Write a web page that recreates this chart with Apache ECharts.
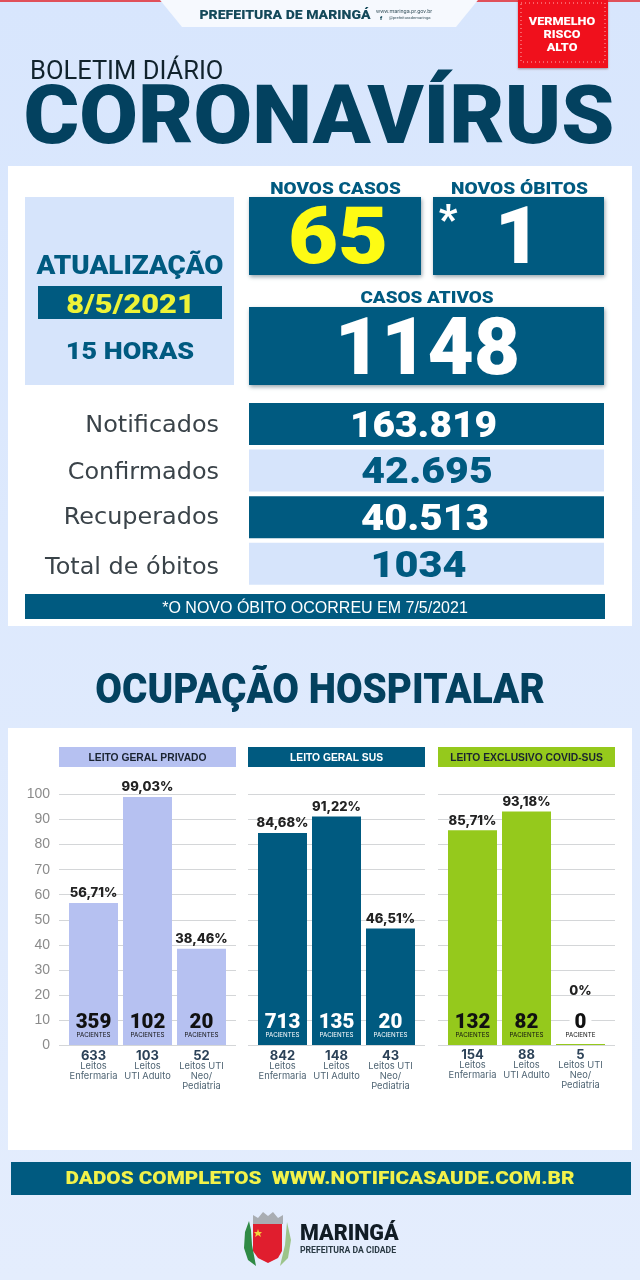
<!DOCTYPE html>
<html>
<head>
<meta charset="utf-8">
<title>Boletim Coronavírus Maringá</title>
<script src="https://cdn.jsdelivr.net/npm/echarts@6/dist/echarts.min.js"></script>
<style>
  html, body { margin: 0; padding: 0; background: #dfe9fd; }
  #chart { width: 640px; height: 1280px; }
</style>
</head>
<body>
<div id="chart"></div>
<script>
// valores do gráfico
const yTicks = [0, 10, 20, 30, 40, 50, 60, 70, 80, 90, 100];
const groupTitles = ['LEITO GERAL PRIVADO', 'LEITO GERAL SUS', 'LEITO EXCLUSIVO COVID-SUS'];
const bedTypes = ['Leitos\nEnfermaria', 'Leitos\nUTI Adulto', 'Leitos UTI\nNeo/\nPediatria'];

const privadoPct = [56.71, 99.03, 38.46];
const privadoPacientes = [359, 102, 20];
const privadoLeitos = [633, 103, 52];

const susPct = [84.68, 91.22, 46.51];
const susPacientes = [713, 135, 20];
const susLeitos = [842, 148, 43];

const covidPct = [85.71, 93.18, 0];
const covidPacientes = [132, 82, 0];
const covidLeitos = [154, 88, 5];

// números do boletim
const novosCasos = '65';
const novosObitos = '1';
const casosAtivos = '1148';
const rowLabels = ['Notificados', 'Confirmados', 'Recuperados', 'Total de óbitos'];
const rowValues = ['163.819', '42.695', '40.513', '1034'];

// ajuste fino das linhas de totais
const rowCenters = [423.5, 427, 425, 418.5];
const rowScales = [1.08, 1.14, 1.11, 1.15];
const rowLabelY = [424, 471, 516, 566];

const NAVY = '#005a80';
const DARK = '#03415f';
const PALE = '#d6e4fb';
const HEAD = 'Roboto, "Noto Sans", sans-serif';
const BODY = '"DejaVu Sans", sans-serif';
const CHART_FONT = 'Inter, Roboto, sans-serif';

const rect = (x, y, width, height, fill, extra = {}) => ({
  type: 'rect',
  silent: true,
  z: -5,
  shape: { x, y, width, height },
  style: { fill, ...extra },
});

const poly = (points, fill) => ({
  type: 'polygon',
  silent: true,
  z: -4,
  shape: { points },
  style: { fill },
});

// y é o centro visual das maiúsculas
const text = (str, x, y, size, fill, opts = {}) => {
  const { align = 'center', weight = 700, font = HEAD, scaleX = 1 } = opts;
  return {
    type: 'text',
    silent: true,
    x,
    y: y + size * 0.08,
    z: 5,
    scaleX,
    style: {
      text: str,
      fill,
      font: `${weight} ${size}px ${font}`,
      textAlign: align,
      textVerticalAlign: 'middle',
    },
  };
};

const boxShadow = { shadowBlur: 4, shadowColor: 'rgba(0,30,50,0.4)', shadowOffsetX: 1, shadowOffsetY: 2 };

// fundo, cabeçalho e quadro de números
const poster = [
  rect(0, 0, 640, 1280, new echarts.graphic.LinearGradient(0, 0, 0, 1, [
    { offset: 0, color: '#d8e6fd' },
    { offset: 1, color: '#e4edfd' },
  ])),
  rect(0, 0, 640, 2, '#e0505a'),
  poly([[160, 0], [478, 0], [456, 27], [182, 27]], '#f6f9fe'),
  text('PREFEITURA DE MARINGÁ', 285, 15, 12.5, '#14495a', { weight: 900, scaleX: 1.125 }),
  text('www.maringa.pr.gov.br', 376, 11, 5.5, '#3a5560', { align: 'left', weight: 400 }),
  text('f', 381, 18, 6, '#14495a', { weight: 900 }),
  text('@prefeiturademaringa', 389, 18, 4.2, '#3a5560', { align: 'left', weight: 400 }),
  rect(518, 0, 90, 68, '#f0101c', { shadowBlur: 2, shadowColor: 'rgba(80,0,0,0.4)', shadowOffsetY: 1 }),
  rect(521, 3, 84, 59, 'none', { stroke: '#ffb0b0', lineWidth: 1, lineDash: [1, 3] }),
  text('VERMELHO', 562, 21.5, 11.5, '#fff', { weight: 900, scaleX: 1.1 }),
  text('RISCO', 562, 34.5, 11.5, '#fff', { weight: 900, scaleX: 1.1 }),
  text('ALTO', 562, 47, 11.5, '#fff', { weight: 900, scaleX: 1.1 }),

  text('BOLETIM DIÁRIO', 30, 71, 25.5, '#10222c', { align: 'left', weight: 400 }),
  text('CORONAVÍRUS', 319, 116, 81, DARK, { weight: 900, scaleX: 1.05 }),

  rect(8, 166, 624, 460, '#ffffff'),
  rect(25, 197, 209, 188, PALE),
  text('ATUALIZAÇÃO', 130, 266, 25, NAVY, { weight: 900, scaleX: 1.11 }),
  rect(38, 286, 184, 33, NAVY),
  text('8/5/2021', 130.5, 305, 25, '#eef337', { weight: 900, scaleX: 1.23 }),
  text('15 HORAS', 130, 351, 24.5, NAVY, { weight: 900, scaleX: 1.1 }),

  text('NOVOS CASOS', 335.5, 189, 16.5, NAVY, { weight: 900, scaleX: 1.15 }),
  text('NOVOS ÓBITOS', 519.5, 189, 16.5, NAVY, { weight: 900, scaleX: 1.16 }),
  rect(249, 197, 172, 78, NAVY, boxShadow),
  rect(433, 197, 171, 78, NAVY, boxShadow),
  text(novosCasos, 338, 236.5, 80, '#fdfb14', { weight: 900, scaleX: 1.08 }),
  text('*', 448, 220, 40, '#fff', { weight: 900 }),
  text(novosObitos, 518, 236.5, 80, '#fff', { weight: 900 }),
  text('CASOS ATIVOS', 427, 298, 16, NAVY, { weight: 900, scaleX: 1.18 }),
  rect(249, 307, 355, 78, NAVY, boxShadow),
  text(casosAtivos, 427.5, 348, 80, '#fff', { weight: 900 }),

  rect(25, 594, 580, 25, NAVY),
  text('*O NOVO ÓBITO OCORREU EM 7/5/2021', 315, 607, 16, '#fff', { weight: 400, font: '"Liberation Sans", sans-serif' }),

  text('OCUPAÇÃO HOSPITALAR', 320, 689, 43, DARK, { weight: 900, scaleX: 0.9 }),

  // área dos gráficos
  rect(8, 728, 624, 422, '#ffffff'),

  rect(11, 1162, 620, 33, NAVY),
  text('DADOS COMPLETOS  WWW.NOTIFICASAUDE.COM.BR', 320, 1178, 18.5, '#f2f24a', { weight: 900, scaleX: 1.12 }),

  // brasão simplificado
  poly([[253, 1224], [282, 1224], [282, 1251], [278, 1258], [268, 1263], [258, 1258], [253, 1251]], '#e01e2e'),
  poly([[253, 1224], [253, 1215], [258, 1218], [263, 1212], [268, 1216], [273, 1212], [278, 1218], [283, 1215], [283, 1224]], '#a9adb2'),
  poly([[249, 1221], [245, 1232], [244, 1248], [248, 1260], [256, 1266], [252, 1245], [251, 1230]], '#2f8a45'),
  poly([[287, 1222], [291, 1240], [288, 1258], [280, 1266], [285, 1245]], '#9cc48a'),
  poly([[258, 1229], [259, 1232], [262, 1232], [260, 1234], [261, 1237], [258, 1235], [255, 1237], [256, 1234], [254, 1232], [257, 1232]], '#f3d23a'),
  rect(264, 1236, 8, 11, '#f3d23a'),
  text('MARINGÁ', 300, 1233, 21.5, '#111c25', { align: 'left', weight: 900 }),
  text('PREFEITURA DA CIDADE', 300, 1250, 9.5, '#2a3a44', { align: 'left', weight: 700, scaleX: 0.91 }),
];

// linhas de totais
rowLabels.forEach((label, i) => {
  const top = 403 + i * 46.6;
  const odd = i % 2 === 1;
  poster.push(rect(249, top, 355, 42, odd ? PALE : NAVY));
  poster.push(text(label, 219, rowLabelY[i], 23, '#3a4349', { align: 'right', weight: 400, font: BODY, scaleX: 1.04 }));
  poster.push(text(rowValues[i], rowCenters[i], top + 22, 36, odd ? NAVY : '#fff', { weight: 900, scaleX: rowScales[i] }));
});

// configuração dos três grupos
const groups = [
  { left: 59, color: '#b6c1f1', ink: '#111', head: '#1a2330', pct: privadoPct, pac: privadoPacientes, beds: privadoLeitos },
  { left: 248, color: NAVY, ink: '#fff', head: '#fff', pct: susPct, pac: susPacientes, beds: susLeitos },
  { left: 438, color: '#95c91c', ink: '#111', head: '#1a2330', pct: covidPct, pac: covidPacientes, beds: covidLeitos },
];

const GRID_W = 177;
const grids = [];
const xAxes = [];
const yAxes = [];
const series = [];
const pctLabel = v => `${String(v).replace('.', ',')}%`;
const hiddenPoint = { color: 'rgba(0,0,0,0)', opacity: 1 };

groups.forEach((g, idx) => {
  poster.push(rect(g.left, 747, GRID_W, 20, g.color));
  poster.push(text(groupTitles[idx], g.left + GRID_W / 2, 757, 10.3, g.head, { font: '"Liberation Sans", sans-serif' }));

  grids.push({ left: g.left, width: GRID_W, top: 794.5, height: 250.5 });
  xAxes.push({
    gridIndex: idx, type: 'value', min: -0.639, max: 2.639,
    show: false, splitLine: { show: false },
  });
  yAxes.push({
    gridIndex: idx, type: 'value', min: 0, max: 100, interval: 10,
    axisLine: { show: false }, axisTick: { show: false },
    splitLine: { lineStyle: { color: '#d4d6d8', width: 1 } },
    axisLabel: {
      show: idx === 0, margin: 9, color: '#8b8b8b', fontSize: 14,
      fontFamily: '"Liberation Sans", sans-serif',
      formatter: v => (yTicks.includes(v) ? String(v) : ''),
    },
  });

  series.push({
    type: 'bar', xAxisIndex: idx, yAxisIndex: idx, silent: true, barWidth: 49, barMinHeight: 1,
    itemStyle: { color: g.color },
    label: {
      show: true, position: 'top', distance: 3, color: '#222', fontSize: 13, fontWeight: 800,
      fontFamily: CHART_FONT, formatter: p => pctLabel(p.value[1]),
    },
    data: g.pct.map((v, i) => (v === 0
      ? { value: [i, v], label: { offset: [0, -43] } }
      : { value: [i, v] })),
  });
  // número de pacientes dentro da barra
  const numStyle = { fontSize: 20.5, fontWeight: 900, color: g.ink, fontFamily: 'Roboto, sans-serif', lineHeight: 17, align: 'center' };
  series.push({
    type: 'scatter', xAxisIndex: idx, yAxisIndex: idx, silent: true, symbolSize: 1, z: 6,
    itemStyle: hiddenPoint,
    label: {
      show: true, position: 'top', distance: 5,
      formatter: p => {
        const n = g.pac[p.dataIndex];
        return n === 0 ? `{z|${n}}\n{p|PACIENTE}` : `{n|${n}}\n{p|PACIENTES}`;
      },
      rich: {
        n: numStyle,
        z: { ...numStyle, backgroundColor: '#fff', padding: [0, 5] },
        p: { fontSize: 6.2, color: g.ink, fontFamily: CHART_FONT, lineHeight: 8, align: 'center' },
      },
    },
    data: g.pac.map((v, i) => [i, 0]),
  });
  // leitos abaixo do eixo
  series.push({
    type: 'scatter', xAxisIndex: idx, yAxisIndex: idx, silent: true, symbolSize: 1, z: 6,
    itemStyle: hiddenPoint,
    label: {
      show: true, position: 'bottom', distance: idx === 2 ? 4 : 5, verticalAlign: 'top',
      formatter: p => `{b|${g.beds[p.dataIndex]}}\n` + bedTypes[p.dataIndex].split('\n').map(s => `{t|${s}}`).join('\n'),
      rich: {
        b: { fontSize: 13, fontWeight: 700, color: '#2c4258', fontFamily: CHART_FONT, lineHeight: 11, align: 'center' },
        t: { fontSize: 9.3, color: '#4f6473', fontFamily: CHART_FONT, lineHeight: 10, align: 'center' },
      },
    },
    data: g.beds.map((v, i) => [i, 0]),
  });
});

const chart = echarts.init(document.getElementById('chart'), null, { renderer: 'canvas' });
chart.setOption({
  animation: false,
  graphic: { elements: poster },
  grid: grids,
  xAxis: xAxes,
  yAxis: yAxes,
  series,
});
</script>
</body>
</html>
